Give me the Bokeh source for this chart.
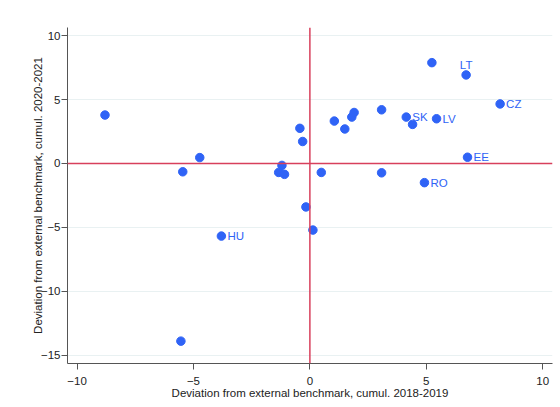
from bokeh.plotting import figure
from bokeh.models import FixedTicker, Span, ColumnDataSource, Range1d
from bokeh.core.properties import value
from bokeh.embed import file_html
from bokeh.resources import INLINE

# Data
x_vals = [-8.80, -5.46, -4.73, -5.54, -3.80, -1.20, -1.34, -1.09, -0.43, -0.31,
          0.49, -0.17, 0.13, 1.05, 1.50, 1.80, 1.90, 3.08, 3.08, 4.14,
          4.41, 5.44, 5.24, 6.71, 8.17, 6.77, 4.92]
y_vals = [3.79, -0.65, 0.46, -13.90, -5.68, -0.15, -0.70, -0.85, 2.75, 1.72,
          -0.70, -3.40, -5.21, 3.32, 2.70, 3.63, 3.99, 4.20, -0.73, 3.63,
          3.06, 3.50, 7.89, 6.93, 4.66, 0.49, -1.50]
labels = ["", "", "", "", "HU", "", "", "", "", "",
          "", "", "", "", "", "", "", "", "", "SK",
          "", "LV", "", "LT", "CZ", "EE", "RO"]
x_ticks = [-10, -5, 0, 5, 10]
y_ticks = [-15, -10, -5, 0, 5, 10]
x_title = "Deviation from external benchmark, cumul. 2018-2019"
y_title = "Deviation from external benchmark, cumul. 2020-2021"

BLUE = "#2f63f6"
RED = "#d8405c"
FONT = "Liberation Sans"

p = figure(width=556, height=401, output_backend="svg", toolbar_location=None,
           x_range=Range1d(-10.41, 10.42), y_range=Range1d(-15.65, 10.64),
           min_border_left=67, min_border_right=4, min_border_top=27, min_border_bottom=33)
p.outline_line_color = None
p.background_fill_color = "white"
p.border_fill_color = "white"

p.xgrid.visible = False
p.ygrid.grid_line_color = "#e9f1f2"
p.ygrid.grid_line_width = 1
p.ygrid.ticker = FixedTicker(ticks=y_ticks)

for ax, ticks in ((p.xaxis[0], x_ticks), (p.yaxis[0], y_ticks)):
    ax.ticker = FixedTicker(ticks=ticks)
    ax.minor_tick_line_color = None
    ax.major_tick_out = 6
    ax.major_tick_in = 0
    ax.axis_line_color = "#555555"
    ax.major_tick_line_color = "#555555"
    ax.major_label_text_font = FONT
    ax.major_label_text_font_size = "11.5px"
    ax.major_label_text_color = "#222222"
    ax.axis_label_text_font = FONT
    ax.axis_label_text_font_size = "11.5px"
    ax.axis_label_text_font_style = "normal"
    ax.axis_label_text_color = "#222222"

p.xaxis.axis_label = x_title
p.yaxis.axis_label = y_title
p.xaxis.major_label_standoff = 7
p.xaxis.axis_label_standoff = -1
p.yaxis.major_label_standoff = 1
p.yaxis.axis_label_standoff = -6

p.add_layout(Span(location=0, dimension="width", line_color=RED, line_width=1.5))
p.add_layout(Span(location=0, dimension="height", line_color=RED, line_width=1.5))

src = ColumnDataSource(dict(x=x_vals, y=y_vals, label=labels))
p.scatter("x", "y", source=src, size=8.5, fill_color=BLUE, line_color=BLUE)

right_idx = [i for i, l in enumerate(labels) if l and l != "LT"]
top_idx = [i for i, l in enumerate(labels) if l == "LT"]
src_r = ColumnDataSource(dict(x=[x_vals[i] for i in right_idx], y=[y_vals[i] for i in right_idx],
                              label=[labels[i] for i in right_idx]))
src_t = ColumnDataSource(dict(x=[x_vals[i] for i in top_idx], y=[y_vals[i] for i in top_idx],
                              label=[labels[i] for i in top_idx]))
p.text("x", "y", text="label", source=src_r, x_offset=6, text_align="left",
       text_baseline="middle", text_font=value(FONT), text_font_size="11.5px", text_color=BLUE)
p.text("x", "y", text="label", source=src_t, y_offset=-10, text_align="center",
       text_baseline="middle", text_font=value(FONT), text_font_size="11.5px", text_color=BLUE)

open("out.html", "w").write(file_html(p, INLINE))
